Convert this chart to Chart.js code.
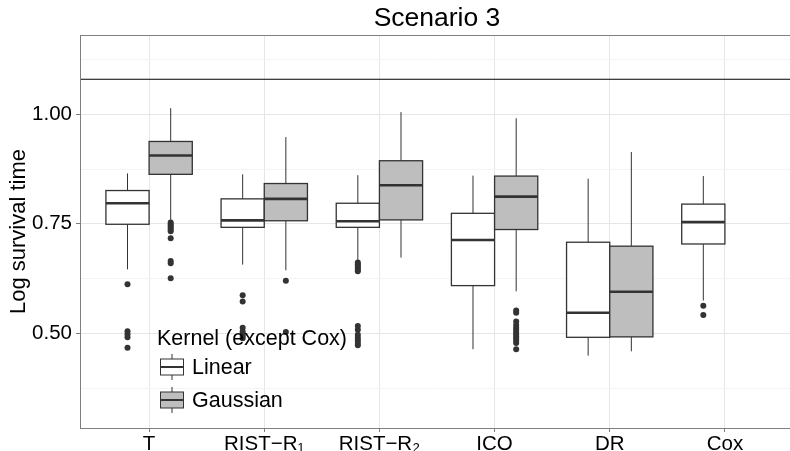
<!DOCTYPE html>
<html>
<head>
<meta charset="utf-8">
<script src="https://cdn.jsdelivr.net/npm/chart.js@4.4.1/dist/chart.umd.min.js"></script>
<style>
  html, body { margin: 0; padding: 0; background: #fff; overflow: hidden; }
  #wrap { width: 790px; height: 451px; overflow: hidden; }
</style>
</head>
<body>
<div id="wrap"><canvas id="boxChart" width="874" height="451"></canvas></div>
<script>
// ---- data ----
const categories = ["T", "RIST\u2212R\u2081", "RIST\u2212R\u2082", "ICO", "DR", "Cox"];
const kernels = ["Linear", "Gaussian"];

// [lower whisker, q1, median, q3, upper whisker]
const linearStats = [
  [0.646, 0.749, 0.797, 0.826, 0.865],
  [0.657, 0.742, 0.758, 0.807, 0.863],
  [0.663, 0.742, 0.756, 0.797, 0.861],
  [0.464, 0.609, 0.713, 0.774, 0.86],
  [0.449, 0.491, 0.547, 0.708, 0.853],
  [0.575, 0.704, 0.754, 0.795, 0.859],
];
const gaussianStats = [
  [0.755, 0.863, 0.906, 0.938, 1.014],
  [0.644, 0.757, 0.807, 0.842, 0.948],
  [0.673, 0.759, 0.838, 0.894, 1.005],
  [0.596, 0.737, 0.812, 0.859, 0.991],
  [0.459, 0.492, 0.595, 0.699, 0.914],
  null,
];

const linearOutliers = [
  [0.612, 0.505, 0.498, 0.491, 0.467],
  [0.587, 0.573, 0.513, 0.504, 0.499, 0.494, 0.489],
  [0.662, 0.658, 0.654, 0.65, 0.646, 0.642, 0.517, 0.508, 0.497, 0.49, 0.484, 0.478, 0.473],
  [],
  [],
  [0.563, 0.542],
];
const gaussianOutliers = [
  [0.753, 0.749, 0.745, 0.741, 0.737, 0.733, 0.717, 0.665, 0.66, 0.626],
  [0.62, 0.503],
  [],
  [0.552, 0.547, 0.527, 0.519, 0.513, 0.508, 0.503, 0.498, 0.493, 0.488, 0.483, 0.478, 0.464],
  [],
  [],
];

const refLine = 1.08;
const yMajorTicks = [0.5, 0.75, 1.0];
const yMinorTicks = [0.375, 0.625, 0.875, 1.125];

// ---- styling ----
const FONT = "'Liberation Sans', Arial, Helvetica, sans-serif";
const fills = ["#ffffff", "#bebebe"];
const dodge = [-0.1875, 0.1875];
const halfWidth = 0.1875;
const ink = "#333333";
const gridMajor = "#e6e6e6";
const gridMinor = "#f4f4f4";
const frame = "#7f7f7f";

const allStats = [linearStats, gaussianStats];
const allOutliers = [linearOutliers, gaussianOutliers];

// outlier points as scatter datasets
const outlierSets = allOutliers.map((list, k) => {
  const pts = [];
  list.forEach((vals, i) => {
    vals.forEach((v) => pts.push({ x: i + 1 + dodge[k], y: v }));
  });
  return {
    label: kernels[k] + " outliers",
    data: pts,
    pointRadius: 3,
    pointBackgroundColor: ink,
    pointBorderWidth: 0,
    showLine: false,
  };
});

function drawBox(ctx, cx, half, yOf, s, fill, lw) {
  ctx.strokeStyle = ink;
  ctx.lineWidth = 1;
  ctx.beginPath();
  ctx.moveTo(cx, yOf(s[4]));
  ctx.lineTo(cx, yOf(s[3]));
  ctx.moveTo(cx, yOf(s[1]));
  ctx.lineTo(cx, yOf(s[0]));
  ctx.stroke();
  const top = yOf(s[3]);
  const bot = yOf(s[1]);
  ctx.fillStyle = fill;
  ctx.fillRect(cx - half, top, half * 2, bot - top);
  ctx.lineWidth = lw;
  ctx.strokeRect(cx - half, top, half * 2, bot - top);
  ctx.lineWidth = lw * 2;
  ctx.beginPath();
  ctx.moveTo(cx - half, yOf(s[2]));
  ctx.lineTo(cx + half, yOf(s[2]));
  ctx.stroke();
}

const boxPlugin = {
  id: "boxes",
  beforeDatasetsDraw(chart) {
    const { ctx, chartArea, scales } = chart;
    const x = scales.x, y = scales.y;
    ctx.save();
    ctx.beginPath();
    ctx.rect(chartArea.left, chartArea.top, chartArea.right - chartArea.left, chartArea.bottom - chartArea.top);
    ctx.clip();
    // reference line
    ctx.strokeStyle = "#000";
    ctx.lineWidth = 1.2;
    ctx.beginPath();
    ctx.moveTo(chartArea.left, y.getPixelForValue(refLine));
    ctx.lineTo(chartArea.right, y.getPixelForValue(refLine));
    ctx.stroke();
    // boxes
    allStats.forEach((stats, k) => {
      stats.forEach((s, i) => {
        if (!s) return;
        const cx = x.getPixelForValue(i + 1 + dodge[k]);
        const half = x.getPixelForValue(i + 1 + dodge[k] + halfWidth) - cx;
        drawBox(ctx, cx, half, (v) => y.getPixelForValue(v), s, fills[k], 1.3);
      });
    });
    ctx.restore();
  },
  afterDatasetsDraw(chart) {
    const { ctx, chartArea } = chart;
    ctx.save();
    ctx.strokeStyle = frame;
    ctx.lineWidth = 1;
    ctx.strokeRect(chartArea.left + 0.5, chartArea.top + 0.5, chartArea.right - chartArea.left, chartArea.bottom - chartArea.top);

    // legend inside the panel
    const lx = chartArea.left + 77;
    const ly = chartArea.top + 304;
    ctx.fillStyle = "#000";
    ctx.textBaseline = "middle";
    ctx.textAlign = "left";
    ctx.font = "21.5px " + FONT;
    ctx.fillText("Kernel (except Cox)", lx, ly);
    kernels.forEach((name, k) => {
      const cy = ly + 28 + k * 33;
      const kx = lx + 15;
      const sample = [cy + 13, cy + 8, cy, cy - 8, cy - 13];
      drawBox(ctx, kx, 11.5, (v) => v, sample, fills[k], 1);
      ctx.fillStyle = "#000";
      ctx.fillText(name, lx + 35, cy + 1);
    });
    ctx.restore();
  },
};

const isMajor = (v) => yMajorTicks.some((m) => Math.abs(m - v) < 1e-6);

new Chart(document.getElementById("boxChart"), {
  type: "scatter",
  data: { datasets: outlierSets },
  options: {
    responsive: false,
    animation: false,
    devicePixelRatio: 1,
    layout: { padding: { left: 0, right: 80, top: 0, bottom: 0 } },
    plugins: {
      legend: { display: false },
      tooltip: { enabled: false },
      title: { display: false },
    },
    scales: {
      // title row, centred over the panel
      top: {
        type: "linear",
        position: "top",
        min: 0.4,
        max: 6.6,
        afterFit: (scale) => { scale.height = 35; },
        ticks: { display: false },
        grid: { display: false, drawTicks: false },
        border: { display: false },
        title: {
          display: true,
          text: "Scenario 3",
          color: "#000",
          font: { family: FONT, size: 26.5, weight: "normal", lineHeight: "30px" },
          padding: { top: 4, bottom: 1 },
        },
      },
      x: {
        type: "linear",
        position: "bottom",
        min: 0.4,
        max: 6.6,
        afterBuildTicks: (scale) => {
          scale.ticks = categories.map((c, i) => ({ value: i + 1 }));
        },
        afterFit: (scale) => { scale.height = 23; },
        ticks: {
          autoSkip: false,
          maxRotation: 0,
          padding: 0,
          color: "#000",
          font: { family: FONT, size: 20.5 },
          callback: (v) => categories[Math.round(v) - 1] || "",
        },
        grid: { color: gridMajor, tickColor: frame, tickLength: 4, lineWidth: 1 },
        border: { color: frame, width: 1 },
      },
      y: {
        type: "linear",
        min: 0.284,
        max: 1.181,
        afterBuildTicks: (scale) => {
          scale.ticks = yMajorTicks.concat(yMinorTicks).sort((a, b) => a - b).map((v) => ({ value: v }));
        },
        afterFit: (scale) => { scale.width = 80; },
        ticks: {
          autoSkip: false,
          padding: 4,
          color: "#000",
          font: { family: FONT, size: 20.5 },
          callback: (v) => (isMajor(v) ? v.toFixed(2) : ""),
        },
        grid: {
          color: (c) => (c.tick && isMajor(c.tick.value) ? gridMajor : gridMinor),
          tickColor: (c) => (c.tick && isMajor(c.tick.value) ? frame : "rgba(0,0,0,0)"),
          tickLength: 4,
          lineWidth: 1,
        },
        border: { color: frame, width: 1 },
        title: {
          display: true,
          text: "Log survival time",
          color: "#000",
          font: { family: FONT, size: 22 },
          padding: { top: 6, bottom: 0 },
        },
      },
    },
  },
  plugins: [boxPlugin],
});
</script>
</body>
</html>
